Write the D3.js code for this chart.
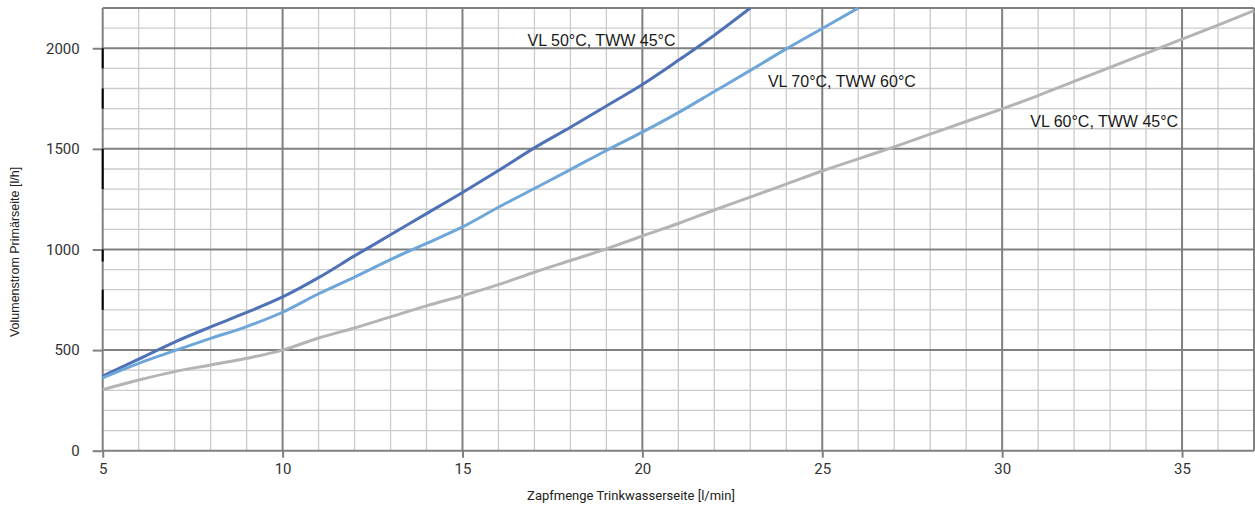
<!DOCTYPE html>
<html>
<head>
<meta charset="utf-8">
<script src="https://cdn.jsdelivr.net/npm/d3@7"></script>
<style>
  html, body { margin: 0; padding: 0; background: #fff; }
  svg { display: block; }
</style>
</head>
<body>
<svg id="chart" width="1255" height="506"></svg>
<script>
// Zapfmenge (l/min) and primary-side flow (l/h) per operating point
const xVL50 = d3.range(5, 24);
const vVL50 = [371, 455, 540, 615, 687, 764, 860, 968, 1073, 1178, 1283, 1392, 1505, 1607, 1713, 1820, 1940, 2065, 2200];

const xVL70 = d3.range(5, 27);
const vVL70 = [362, 434, 497, 558, 617, 688, 780, 863, 950, 1030, 1112, 1210, 1303, 1397, 1492, 1583, 1680, 1785, 1890, 1997, 2098, 2200];

const xVL60 = d3.range(5, 38);
const vVL60 = [303, 351, 393, 426, 459, 500, 560, 610, 665, 720, 770, 825, 887, 945, 1003, 1067, 1129, 1196, 1260, 1325, 1390, 1450, 1510, 1573, 1636, 1699, 1765, 1835, 1905, 1975, 2045, 2115, 2187];

const seriesNames = ["VL 50°C, TWW 45°C", "VL 70°C, TWW 60°C", "VL 60°C, TWW 45°C"];
const seriesColors = ["#4f71b6", "#6ea6d9", "#b4b4b4"];

// Label anchor points in data units
const labelX = [16.81, 23.49, 30.78];
const labelY = [2012, 1808, 1609];

const xTicks = [5, 10, 15, 20, 25, 30, 35];
const yTicks = [0, 500, 1000, 1500, 2000];

// Darker strokes along the left spine (value ranges)
const spineMarks = [[2000, 1900], [1800, 1700], [1500, 1300], [1000, 940], [800, 700]];

const svg = d3.select("#chart");
const x = d3.scaleLinear().domain([5, 37]).range([102.7, 1254]);
const y = d3.scaleLinear().domain([0, 2200]).range([450.7, 8]);

// minor grid
const gMinor = svg.append("g");
gMinor.selectAll("line.vx").data(d3.range(6, 37).filter(d => d % 5 !== 0)).join("line")
  .attr("x1", d => x(d)).attr("x2", d => x(d)).attr("y1", y(0)).attr("y2", y(2200))
  .attr("stroke", "#cbcbcb").attr("stroke-width", 1.3);
gMinor.selectAll("line.hy").data(d3.range(100, 2200, 100).filter(d => d % 500 !== 0)).join("line")
  .attr("x1", x(5)).attr("x2", x(37)).attr("y1", d => y(d)).attr("y2", d => y(d))
  .attr("stroke", "#cbcbcb").attr("stroke-width", 1.3);

// major grid
const gMajor = svg.append("g");
gMajor.selectAll("line.vx").data(xTicks.concat([37])).join("line")
  .attr("x1", d => x(d)).attr("x2", d => x(d)).attr("y1", y(0)).attr("y2", y(2200))
  .attr("stroke", "#808080").attr("stroke-width", 2);
gMajor.selectAll("line.hy").data(yTicks.concat([2200])).join("line")
  .attr("x1", x(5)).attr("x2", x(37)).attr("y1", d => y(d)).attr("y2", d => y(d))
  .attr("stroke", "#808080").attr("stroke-width", 2);

// axes
const xAxis = d3.axisBottom(x).tickValues(xTicks).tickSize(7).tickPadding(6).tickFormat(d3.format("d"));
const yAxis = d3.axisLeft(y).tickValues(yTicks).tickSize(10).tickPadding(13).tickFormat(d3.format("d"));

const gx = svg.append("g").attr("transform", `translate(0,${y(0)})`).call(xAxis);
const gy = svg.append("g").attr("transform", `translate(${x(5)},0)`).call(yAxis);
[gx, gy].forEach(g => {
  g.select(".domain").remove();
  g.selectAll(".tick line").attr("stroke", "#808080").attr("stroke-width", 2);
  g.selectAll(".tick text").attr("fill", "#333").attr("font-family", "Roboto, sans-serif").attr("font-size", 15);
});

svg.append("g").selectAll("line").data(spineMarks).join("line")
  .attr("x1", x(5)).attr("x2", x(5)).attr("y1", d => y(d[0])).attr("y2", d => y(d[1]))
  .attr("stroke", "#000").attr("stroke-width", 2);

// curves
const seriesX = [xVL50, xVL70, xVL60];
const seriesV = [vVL50, vVL70, vVL60];
const line = d3.line().curve(d3.curveMonotoneX).x(d => x(d[0])).y(d => y(d[1]));
svg.append("g").selectAll("path").data([0, 1, 2]).join("path")
  .attr("d", i => line(d3.zip(seriesX[i], seriesV[i])))
  .attr("fill", "none")
  .attr("stroke", i => seriesColors[i])
  .attr("stroke-width", 3)
  .attr("stroke-linejoin", "round");

// series labels
svg.append("g").selectAll("text").data([0, 1, 2]).join("text")
  .attr("x", i => x(labelX[i])).attr("y", i => y(labelY[i]))
  .attr("font-family", "'Liberation Sans', Arial, sans-serif").attr("font-size", 16)
  .attr("fill", "#1a1a1a")
  .text(i => seriesNames[i]);

// axis titles
svg.append("text").attr("x", 631).attr("y", 500).attr("text-anchor", "middle")
  .attr("font-family", "Roboto, sans-serif").attr("font-size", 13).attr("fill", "#222")
  .text("Zapfmenge Trinkwasserseite [l/min]");
svg.append("text").attr("transform", "translate(19,252) rotate(-90)").attr("text-anchor", "middle")
  .attr("font-family", "'Liberation Sans', Arial, sans-serif").attr("font-size", 12.5).attr("fill", "#222")
  .text("Volumenstrom Primärseite [l/h]");
</script>
</body>
</html>
